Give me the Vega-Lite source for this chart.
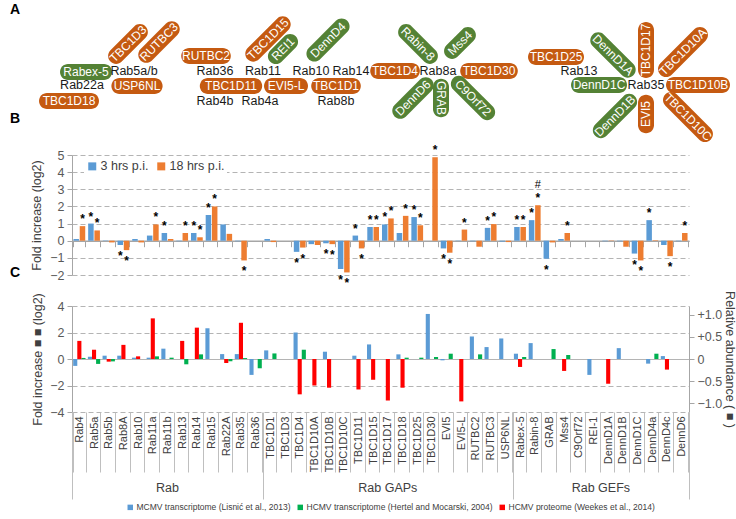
{
"$schema":"https://vega.github.io/schema/vega-lite/v6.json",
"padding":{"top":3,"left":0,"right":0,"bottom":0},
"autosize":{"type":"pad"},
"background":"white",
"bounds":"flush",
"spacing":31,
"resolve":{"scale":{"color":"independent","xOffset":"independent","shape":"independent","angle":"independent"}},
"config":{
  "view":{"stroke":null},
  "font":"Liberation Sans",
  "axis":{"labelFont":"Liberation Sans","titleFont":"Liberation Sans","labelColor":"#595959","titleColor":"#404040","titleFontWeight":"normal","domainColor":"#A6A6A6","tickColor":"#A6A6A6","gridColor":"#B4B4B4"},
  "legend":{"labelFont":"Liberation Sans"},
  "title":{"font":"Liberation Sans","fontSize":14,"fontWeight":"bold","color":"#000000","anchor":"start","frame":"group","dx":4}
},
"datasets":{
 "diagram":[
  {"t":"Rab","label":"Rab5a/b","x":128,"y":69},
  {"t":"Rab","label":"Rab22a","x":76,"y":83},
  {"t":"Rab","label":"Rab36","x":209,"y":69},
  {"t":"Rab","label":"Rab11","x":257,"y":69},
  {"t":"Rab","label":"Rab10","x":305,"y":69},
  {"t":"Rab","label":"Rab14","x":345,"y":69},
  {"t":"Rab","label":"Rab4b","x":209,"y":99},
  {"t":"Rab","label":"Rab4a","x":254,"y":99},
  {"t":"Rab","label":"Rab8b","x":330,"y":99},
  {"t":"Rab","label":"Rab8a","x":432,"y":69},
  {"t":"Rab","label":"Rab13","x":573,"y":69},
  {"t":"Rab","label":"Rab35","x":640,"y":83},
  {"t":"GEF","label":"Rabex-5","x":80,"y":70,"o":"h"},
  {"t":"GAP","label":"TBC1D3","x":122,"y":42,"o":"rise"},
  {"t":"GAP","label":"RUTBC3","x":153,"y":40,"o":"rise"},
  {"t":"GAP","label":"USP6NL","x":131,"y":84,"o":"h"},
  {"t":"GAP","label":"TBC1D18","x":63,"y":99,"o":"h"},
  {"t":"GAP","label":"RUTBC2","x":200,"y":54,"o":"h"},
  {"t":"GAP","label":"TBC1D15","x":262,"y":37,"o":"rise"},
  {"t":"GEF","label":"REI1","x":277,"y":47,"o":"rise"},
  {"t":"GEF","label":"DennD4","x":322,"y":38,"o":"rise"},
  {"t":"GAP","label":"TBC1D11","x":225,"y":84,"o":"h"},
  {"t":"GAP","label":"EVI5-L","x":280,"y":84,"o":"h"},
  {"t":"GAP","label":"TBC1D1","x":330,"y":84,"o":"h"},
  {"t":"GEF","label":"Rabin-8","x":412,"y":42,"o":"fall"},
  {"t":"GEF","label":"Mss4","x":454,"y":41,"o":"rise"},
  {"t":"GAP","label":"TBC1D4","x":389,"y":69,"o":"h"},
  {"t":"GAP","label":"TBC1D30","x":483,"y":69,"o":"h"},
  {"t":"GEF","label":"DennD6","x":407,"y":96,"o":"rise"},
  {"t":"GEF","label":"GRAB","x":435,"y":96,"o":"vdown"},
  {"t":"GEF","label":"C9Orf72","x":467,"y":96,"o":"fall"},
  {"t":"GAP","label":"TBC1D25","x":550,"y":55,"o":"h"},
  {"t":"GEF","label":"DennD1A","x":607,"y":53,"o":"fall"},
  {"t":"GAP","label":"TBC1D17","x":640,"y":48,"o":"vup"},
  {"t":"GAP","label":"TBC1D10A","x":677,"y":50,"o":"rise"},
  {"t":"GEF","label":"DennD1C","x":593,"y":83,"o":"h"},
  {"t":"GAP","label":"TBC1D10B","x":692,"y":83,"o":"h"},
  {"t":"GEF","label":"DennD1B","x":609,"y":114,"o":"rise"},
  {"t":"GAP","label":"EVI5","x":640,"y":112,"o":"vup"},
  {"t":"GAP","label":"TBC1D10C","x":682,"y":115,"o":"fall"}
 ],
 "b":[
  {"c":"Rab4","s":"3 hrs p.i.","v":0.1},{"c":"Rab4","s":"18 hrs p.i.","v":0.85,"sig":"*"},
  {"c":"Rab5a","s":"3 hrs p.i.","v":1.0,"sig":"*"},{"c":"Rab5a","s":"18 hrs p.i.","v":0.6,"sig":"*"},
  {"c":"Rab5b","s":"3 hrs p.i.","v":0.02},{"c":"Rab5b","s":"18 hrs p.i.","v":-0.1},
  {"c":"Rab8A","s":"3 hrs p.i.","v":-0.25,"sig":"*"},{"c":"Rab8A","s":"18 hrs p.i.","v":-0.55,"sig":"*"},
  {"c":"Rab10","s":"3 hrs p.i.","v":0.1},{"c":"Rab10","s":"18 hrs p.i.","v":-0.1},
  {"c":"Rab11a","s":"3 hrs p.i.","v":0.3},{"c":"Rab11a","s":"18 hrs p.i.","v":0.95,"sig":"*"},
  {"c":"Rab11b","s":"3 hrs p.i.","v":0.45,"sig":"*"},{"c":"Rab11b","s":"18 hrs p.i.","v":0.1},
  {"c":"Rab13","s":"3 hrs p.i.","v":-0.03},{"c":"Rab13","s":"18 hrs p.i.","v":0.45,"sig":"*"},
  {"c":"Rab14","s":"3 hrs p.i.","v":0.45,"sig":"*"},{"c":"Rab14","s":"18 hrs p.i.","v":0.2,"sig":"*"},
  {"c":"Rab15","s":"3 hrs p.i.","v":1.5,"sig":"*"},{"c":"Rab15","s":"18 hrs p.i.","v":2.0,"sig":"*"},
  {"c":"Rab22A","s":"3 hrs p.i.","v":0.95},{"c":"Rab22A","s":"18 hrs p.i.","v":0.4},
  {"c":"Rab35","s":"3 hrs p.i.","v":-0.03},{"c":"Rab35","s":"18 hrs p.i.","v":-1.15,"sig":"*"},
  {"c":"TBC1D1","s":"3 hrs p.i.","v":0.1},{"c":"TBC1D1","s":"18 hrs p.i.","v":-0.08},
  {"c":"TBC1D4","s":"3 hrs p.i.","v":-0.65,"sig":"*"},{"c":"TBC1D4","s":"18 hrs p.i.","v":-0.4,"sig":"*"},
  {"c":"TBC1D10A","s":"3 hrs p.i.","v":-0.2},{"c":"TBC1D10A","s":"18 hrs p.i.","v":-0.25},
  {"c":"TBC1D10B","s":"3 hrs p.i.","v":-0.15,"sig":"*"},{"c":"TBC1D10B","s":"18 hrs p.i.","v":-0.2,"sig":"*"},
  {"c":"TBC1D10C","s":"3 hrs p.i.","v":-1.65,"sig":"*"},{"c":"TBC1D10C","s":"18 hrs p.i.","v":-1.85,"sig":"*"},
  {"c":"TBC1D11","s":"3 hrs p.i.","v":0.3,"sig":"*"},{"c":"TBC1D11","s":"18 hrs p.i.","v":-0.45,"sig":"*"},
  {"c":"TBC1D15","s":"3 hrs p.i.","v":0.8,"sig":"*"},{"c":"TBC1D15","s":"18 hrs p.i.","v":0.8,"sig":"*"},
  {"c":"TBC1D17","s":"3 hrs p.i.","v":0.95,"sig":"*"},{"c":"TBC1D17","s":"18 hrs p.i.","v":1.3,"sig":"*"},
  {"c":"TBC1D18","s":"3 hrs p.i.","v":0.45},{"c":"TBC1D18","s":"18 hrs p.i.","v":1.45,"sig":"*"},
  {"c":"TBC1D25","s":"3 hrs p.i.","v":1.38,"sig":"*"},{"c":"TBC1D25","s":"18 hrs p.i.","v":0.9,"sig":"*"},
  {"c":"TBC1D30","s":"18 hrs p.i.","v":4.87,"sig":"*"},
  {"c":"EVI5","s":"3 hrs p.i.","v":-0.45,"sig":"*"},{"c":"EVI5","s":"18 hrs p.i.","v":-0.7,"sig":"*"},
  {"c":"EVI5-L","s":"3 hrs p.i.","v":-0.02},{"c":"EVI5-L","s":"18 hrs p.i.","v":0.65,"sig":"*"},
  {"c":"RUTBC2","s":"3 hrs p.i.","v":-0.03},{"c":"RUTBC2","s":"18 hrs p.i.","v":-0.35},
  {"c":"RUTBC3","s":"3 hrs p.i.","v":0.75,"sig":"*"},{"c":"RUTBC3","s":"18 hrs p.i.","v":0.97,"sig":"*"},
  {"c":"USP6NL","s":"3 hrs p.i.","v":-0.05},{"c":"USP6NL","s":"18 hrs p.i.","v":-0.08},
  {"c":"Rabex-5","s":"3 hrs p.i.","v":0.8,"sig":"*"},{"c":"Rabex-5","s":"18 hrs p.i.","v":0.8,"sig":"*"},
  {"c":"Rabin-8","s":"3 hrs p.i.","v":1.2,"sig":"*"},{"c":"Rabin-8","s":"18 hrs p.i.","v":2.07,"sig":"*","note":"#"},
  {"c":"GRAB","s":"3 hrs p.i.","v":-1.05,"sig":"*"},{"c":"GRAB","s":"18 hrs p.i.","v":-0.1},
  {"c":"Mss4","s":"3 hrs p.i.","v":0.1},{"c":"Mss4","s":"18 hrs p.i.","v":0.45,"sig":"*"},
  {"c":"DennD1A","s":"3 hrs p.i.","v":-0.03},{"c":"DennD1A","s":"18 hrs p.i.","v":0.02},
  {"c":"DennD1B","s":"3 hrs p.i.","v":-0.03},{"c":"DennD1B","s":"18 hrs p.i.","v":-0.35},
  {"c":"DennD1C","s":"3 hrs p.i.","v":-0.75,"sig":"*"},{"c":"DennD1C","s":"18 hrs p.i.","v":-1.15,"sig":"*"},
  {"c":"DennD4a","s":"3 hrs p.i.","v":1.2,"sig":"*"},{"c":"DennD4a","s":"18 hrs p.i.","v":0.03},
  {"c":"DennD4c","s":"3 hrs p.i.","v":-0.25},{"c":"DennD4c","s":"18 hrs p.i.","v":-0.9,"sig":"*"},
  {"c":"DennD6","s":"3 hrs p.i.","v":-0.03},{"c":"DennD6","s":"18 hrs p.i.","v":0.45,"sig":"*"}
 ],
 "c":[
  {"c":"Rab4","s":"MCMV transcriptome (Lisnić et al., 2013)","v":-0.52},{"c":"Rab4","s":"HCMV proteome (Weekes et al., 2014)","v":0.41},{"c":"Rab4","s":"HCMV transcriptome (Hertel and Mocarski, 2004)","v":0.08},
  {"c":"Rab5a","s":"MCMV transcriptome (Lisnić et al., 2013)","v":0.17},{"c":"Rab5a","s":"HCMV proteome (Weekes et al., 2014)","v":0.21},{"c":"Rab5a","s":"HCMV transcriptome (Hertel and Mocarski, 2004)","v":-0.37},
  {"c":"Rab5b","s":"MCMV transcriptome (Lisnić et al., 2013)","v":0.25},{"c":"Rab5b","s":"HCMV proteome (Weekes et al., 2014)","v":-0.06},{"c":"Rab5b","s":"HCMV transcriptome (Hertel and Mocarski, 2004)","v":-0.18},
  {"c":"Rab8A","s":"MCMV transcriptome (Lisnić et al., 2013)","v":0.25},{"c":"Rab8A","s":"HCMV proteome (Weekes et al., 2014)","v":0.32},
  {"c":"Rab10","s":"MCMV transcriptome (Lisnić et al., 2013)","v":0.1},{"c":"Rab10","s":"HCMV proteome (Weekes et al., 2014)","v":0.06},
  {"c":"Rab11a","s":"MCMV transcriptome (Lisnić et al., 2013)","v":0.1},{"c":"Rab11a","s":"HCMV proteome (Weekes et al., 2014)","v":0.92},{"c":"Rab11a","s":"HCMV transcriptome (Hertel and Mocarski, 2004)","v":0.2},
  {"c":"Rab11b","s":"MCMV transcriptome (Lisnić et al., 2013)","v":0.78},{"c":"Rab11b","s":"HCMV transcriptome (Hertel and Mocarski, 2004)","v":0.1},
  {"c":"Rab13","s":"HCMV proteome (Weekes et al., 2014)","v":0.41},{"c":"Rab13","s":"HCMV transcriptome (Hertel and Mocarski, 2004)","v":-0.4},
  {"c":"Rab14","s":"HCMV proteome (Weekes et al., 2014)","v":0.71},{"c":"Rab14","s":"HCMV transcriptome (Hertel and Mocarski, 2004)","v":0.35},
  {"c":"Rab15","s":"MCMV transcriptome (Lisnić et al., 2013)","v":2.32},
  {"c":"Rab22A","s":"MCMV transcriptome (Lisnić et al., 2013)","v":0.37},{"c":"Rab22A","s":"HCMV proteome (Weekes et al., 2014)","v":-0.09},{"c":"Rab22A","s":"HCMV transcriptome (Hertel and Mocarski, 2004)","v":-0.17},
  {"c":"Rab35","s":"MCMV transcriptome (Lisnić et al., 2013)","v":0.37},{"c":"Rab35","s":"HCMV proteome (Weekes et al., 2014)","v":0.82},{"c":"Rab35","s":"HCMV transcriptome (Hertel and Mocarski, 2004)","v":0.07},
  {"c":"Rab36","s":"MCMV transcriptome (Lisnić et al., 2013)","v":-1.2},{"c":"Rab36","s":"HCMV transcriptome (Hertel and Mocarski, 2004)","v":-0.7},
  {"c":"TBC1D1","s":"MCMV transcriptome (Lisnić et al., 2013)","v":0.65},{"c":"TBC1D1","s":"HCMV transcriptome (Hertel and Mocarski, 2004)","v":0.42},
  {"c":"TBC1D4","s":"MCMV transcriptome (Lisnić et al., 2013)","v":2.0},{"c":"TBC1D4","s":"HCMV proteome (Weekes et al., 2014)","v":-0.8},{"c":"TBC1D4","s":"HCMV transcriptome (Hertel and Mocarski, 2004)","v":0.7},
  {"c":"TBC1D10A","s":"HCMV proteome (Weekes et al., 2014)","v":-0.6},
  {"c":"TBC1D10B","s":"MCMV transcriptome (Lisnić et al., 2013)","v":0.55},{"c":"TBC1D10B","s":"HCMV proteome (Weekes et al., 2014)","v":-0.65},
  {"c":"TBC1D11","s":"MCMV transcriptome (Lisnić et al., 2013)","v":0.25},{"c":"TBC1D11","s":"HCMV proteome (Weekes et al., 2014)","v":-0.69},
  {"c":"TBC1D15","s":"MCMV transcriptome (Lisnić et al., 2013)","v":1.1},{"c":"TBC1D15","s":"HCMV proteome (Weekes et al., 2014)","v":-0.47},
  {"c":"TBC1D17","s":"HCMV proteome (Weekes et al., 2014)","v":-0.94},
  {"c":"TBC1D18","s":"MCMV transcriptome (Lisnić et al., 2013)","v":0.35},{"c":"TBC1D18","s":"HCMV proteome (Weekes et al., 2014)","v":-0.65},{"c":"TBC1D18","s":"HCMV transcriptome (Hertel and Mocarski, 2004)","v":0.1},
  {"c":"TBC1D25","s":"HCMV transcriptome (Hertel and Mocarski, 2004)","v":0.1},
  {"c":"TBC1D30","s":"MCMV transcriptome (Lisnić et al., 2013)","v":3.4},{"c":"TBC1D30","s":"HCMV transcriptome (Hertel and Mocarski, 2004)","v":0.15},
  {"c":"EVI5","s":"MCMV transcriptome (Lisnić et al., 2013)","v":-0.1},{"c":"EVI5","s":"HCMV transcriptome (Hertel and Mocarski, 2004)","v":0.4},
  {"c":"EVI5-L","s":"HCMV proteome (Weekes et al., 2014)","v":-0.96},
  {"c":"RUTBC2","s":"MCMV transcriptome (Lisnić et al., 2013)","v":1.7},{"c":"RUTBC2","s":"HCMV transcriptome (Hertel and Mocarski, 2004)","v":0.35},
  {"c":"RUTBC3","s":"MCMV transcriptome (Lisnić et al., 2013)","v":0.9},
  {"c":"USP6NL","s":"MCMV transcriptome (Lisnić et al., 2013)","v":1.55},
  {"c":"Rabex-5","s":"MCMV transcriptome (Lisnić et al., 2013)","v":0.4},{"c":"Rabex-5","s":"HCMV proteome (Weekes et al., 2014)","v":-0.18},{"c":"Rabex-5","s":"HCMV transcriptome (Hertel and Mocarski, 2004)","v":0.15},
  {"c":"Rabin-8","s":"MCMV transcriptome (Lisnić et al., 2013)","v":1.2},
  {"c":"GRAB","s":"HCMV transcriptome (Hertel and Mocarski, 2004)","v":0.75},
  {"c":"Mss4","s":"HCMV proteome (Weekes et al., 2014)","v":-0.27},{"c":"Mss4","s":"HCMV transcriptome (Hertel and Mocarski, 2004)","v":0.3},
  {"c":"REI-1","s":"MCMV transcriptome (Lisnić et al., 2013)","v":-1.2},
  {"c":"DennD1A","s":"HCMV proteome (Weekes et al., 2014)","v":-0.56},
  {"c":"DennD1B","s":"MCMV transcriptome (Lisnić et al., 2013)","v":0.82},
  {"c":"DennD4a","s":"MCMV transcriptome (Lisnić et al., 2013)","v":-0.35},{"c":"DennD4a","s":"HCMV transcriptome (Hertel and Mocarski, 2004)","v":0.4},
  {"c":"DennD4c","s":"MCMV transcriptome (Lisnić et al., 2013)","v":0.22},{"c":"DennD4c","s":"HCMV proteome (Weekes et al., 2014)","v":-0.24}
 ],
 "groups":[{"g":"Rab","b":0},{"g":"Rab","b":13},{"g":"Rab GAPs","b":13},{"g":"Rab GAPs","b":30},{"g":"Rab GEFs","b":30},{"g":"Rab GEFs","b":42}]
},
"vconcat":[
 {
  "width":736,"height":97,
  "title":{"text":"A","offset":-1},
  "data":{"name":"diagram"},
  "encoding":{
   "x":{"field":"x","type":"quantitative","scale":{"domain":[0,736],"nice":false,"zero":false},"axis":null},
   "y":{"field":"y","type":"quantitative","scale":{"domain":[25,122],"reverse":true,"nice":false,"zero":false},"axis":null}
  },
  "layer":[
   {"transform":[{"filter":"datum.t !== 'Rab'"}],
    "mark":{"type":"point","filled":true,"opacity":1,"size":256,"strokeWidth":0},
    "encoding":{
     "shape":{"field":"label","type":"nominal","legend":null,"scale":{
       "domain":["Rabex-5","TBC1D3","RUTBC3","USP6NL","TBC1D18","RUTBC2","TBC1D15","REI1","DennD4","TBC1D11","EVI5-L","TBC1D1","Rabin-8","Mss4","TBC1D4","TBC1D30","DennD6","GRAB","C9Orf72","TBC1D25","DennD1A","TBC1D17","TBC1D10A","DennD1C","TBC1D10B","DennD1B","EVI5","TBC1D10C"],
       "range":[
        "M-2.25,-1H2.25A1,1,0,0,1,2.25,1H-2.25A1,1,0,0,1,-2.25,-1Z",
        "M-2.1,-1H2.1A1,1,0,0,1,2.1,1H-2.1A1,1,0,0,1,-2.1,-1Z",
        "M-2.25,-1H2.25A1,1,0,0,1,2.25,1H-2.25A1,1,0,0,1,-2.25,-1Z",
        "M-2.2,-1H2.2A1,1,0,0,1,2.2,1H-2.2A1,1,0,0,1,-2.2,-1Z",
        "M-2.75,-1H2.75A1,1,0,0,1,2.75,1H-2.75A1,1,0,0,1,-2.75,-1Z",
        "M-2.1,-1H2.1A1,1,0,0,1,2.1,1H-2.1A1,1,0,0,1,-2.1,-1Z",
        "M-2.6,-1H2.6A1,1,0,0,1,2.6,1H-2.6A1,1,0,0,1,-2.6,-1Z",
        "M-1.25,-1H1.25A1,1,0,0,1,1.25,1H-1.25A1,1,0,0,1,-1.25,-1Z",
        "M-2.4,-1H2.4A1,1,0,0,1,2.4,1H-2.4A1,1,0,0,1,-2.4,-1Z",
        "M-2.9,-1H2.9A1,1,0,0,1,2.9,1H-2.9A1,1,0,0,1,-2.9,-1Z",
        "M-1.75,-1H1.75A1,1,0,0,1,1.75,1H-1.75A1,1,0,0,1,-1.75,-1Z",
        "M-2.1,-1H2.1A1,1,0,0,1,2.1,1H-2.1A1,1,0,0,1,-2.1,-1Z",
        "M-2.1,-1H2.1A1,1,0,0,1,2.1,1H-2.1A1,1,0,0,1,-2.1,-1Z",
        "M-1.4,-1H1.4A1,1,0,0,1,1.4,1H-1.4A1,1,0,0,1,-1.4,-1Z",
        "M-2.1,-1H2.1A1,1,0,0,1,2.1,1H-2.1A1,1,0,0,1,-2.1,-1Z",
        "M-2.6,-1H2.6A1,1,0,0,1,2.6,1H-2.6A1,1,0,0,1,-2.6,-1Z",
        "M-2.25,-1H2.25A1,1,0,0,1,2.25,1H-2.25A1,1,0,0,1,-2.25,-1Z",
        "M-1.4,-1H1.4A1,1,0,0,1,1.4,1H-1.4A1,1,0,0,1,-1.4,-1Z",
        "M-2.5,-1H2.5A1,1,0,0,1,2.5,1H-2.5A1,1,0,0,1,-2.5,-1Z",
        "M-2.5,-1H2.5A1,1,0,0,1,2.5,1H-2.5A1,1,0,0,1,-2.5,-1Z",
        "M-2.6,-1H2.6A1,1,0,0,1,2.6,1H-2.6A1,1,0,0,1,-2.6,-1Z",
        "M-2.5,-1H2.5A1,1,0,0,1,2.5,1H-2.5A1,1,0,0,1,-2.5,-1Z",
        "M-3,-1H3A1,1,0,0,1,3,1H-3A1,1,0,0,1,-3,-1Z",
        "M-2.5,-1H2.5A1,1,0,0,1,2.5,1H-2.5A1,1,0,0,1,-2.5,-1Z",
        "M-3,-1H3A1,1,0,0,1,3,1H-3A1,1,0,0,1,-3,-1Z",
        "M-2.5,-1H2.5A1,1,0,0,1,2.5,1H-2.5A1,1,0,0,1,-2.5,-1Z",
        "M-1.4,-1H1.4A1,1,0,0,1,1.4,1H-1.4A1,1,0,0,1,-1.4,-1Z",
        "M-3,-1H3A1,1,0,0,1,3,1H-3A1,1,0,0,1,-3,-1Z"
       ]}},
     "angle":{"field":"o","type":"nominal","legend":null,"scale":{"type":"ordinal","domain":["h","rise","fall","vup","vdown"],"range":[0,315,45,270,90]}},
     "color":{"field":"t","type":"nominal","legend":null,"scale":{"domain":["GAP","GEF"],"range":["#C55A11","#548235"]}}
    }},
   {"transform":[{"filter":"datum.t !== 'Rab'"}],
    "mark":{"type":"text","color":"white","fontSize":12,"align":"center","baseline":"middle"},
    "encoding":{
     "text":{"field":"label"},
     "angle":{"field":"o","type":"nominal","legend":null,"scale":{"type":"ordinal","domain":["h","rise","fall","vup","vdown"],"range":[0,315,45,270,90]}}
    }},
   {"transform":[{"filter":"datum.t === 'Rab'"}],
    "mark":{"type":"text","color":"#1a1a1a","fontSize":12.5,"align":"center","baseline":"middle"},
    "encoding":{"text":{"field":"label"}}}
  ]
 },
 {
  "width":736,"height":120,
  "title":{"text":"B","offset":18},
  "data":{"name":"b"},
  "encoding":{
   "x":{"field":"c","type":"nominal","sort":null,"title":null,
    "scale":{"domain":["Rab4","Rab5a","Rab5b","Rab8A","Rab10","Rab11a","Rab11b","Rab13","Rab14","Rab15","Rab22A","Rab35","Rab36","TBC1D1","TBC1D3","TBC1D4","TBC1D10A","TBC1D10B","TBC1D10C","TBC1D11","TBC1D15","TBC1D17","TBC1D18","TBC1D25","TBC1D30","EVI5","EVI5-L","RUTBC2","RUTBC3","USP6NL","Rabex-5","Rabin-8","GRAB","Mss4","C9Orf72","REI-1","DennD1A","DennD1B","DennD1C","DennD4a","DennD4c","DennD6"],"range":[66,683],"paddingInner":0.2,"paddingOuter":0.1},
    "axis":{"labels":false,"ticks":true,"tickBand":"extent","tickSize":6,"offset":-34.29,"domainWidth":1.5,"grid":false}},
   "xOffset":{"field":"s","type":"nominal","scale":{"domain":["3 hrs p.i.","18 hrs p.i."],"paddingInner":0.12}},
   "y":{"field":"v","type":"quantitative","scale":{"domain":[-2,5],"nice":false,"zero":false},
    "axis":{"offset":-66,"values":[-2,-1,0,1,2,3,4,5],"format":"d","title":"Fold increase (log2)","titleFontSize":12.5,"titlePadding":6,"labelFontSize":12.5,"labelPadding":3,"tickSize":5,"grid":true,
     "gridDash":{"condition":{"test":"datum.value === 0","value":[]},"value":[5,3]}}}
  },
  "layer":[
   {"mark":{"type":"bar"},
    "encoding":{"color":{"field":"s","type":"nominal","scale":{"domain":["3 hrs p.i.","18 hrs p.i."],"range":["#5B9BD5","#ED7D31"]},
     "legend":{"orient":"none","legendX":78,"legendY":3,"direction":"horizontal","title":null,"symbolType":"square","symbolSize":64,"symbolStrokeWidth":0,"labelFontSize":12.5,"labelColor":"#404040","columnPadding":6,"labelOffset":2,"fillColor":"white","padding":2}}}},
   {"transform":[{"filter":"datum.sig && datum.v >= 0"}],
    "mark":{"type":"text","fontSize":12,"fontWeight":"bold","dy":-7,"baseline":"middle","color":"#000000"},
    "encoding":{"text":{"field":"sig"}}},
   {"transform":[{"filter":"datum.sig && datum.v < 0"}],
    "mark":{"type":"text","fontSize":12,"fontWeight":"bold","dy":11,"baseline":"middle","color":"#000000"},
    "encoding":{"text":{"field":"sig"}}},
   {"transform":[{"filter":"datum.note"}],
    "mark":{"type":"text","fontSize":11,"dy":-20,"baseline":"middle","color":"#000000"},
    "encoding":{"text":{"field":"note"}}}
  ]
 },
 {
  "width":736,"height":106,
  "title":{"text":"C","offset":9},
  "data":{"name":"c"},
  "encoding":{
   "x":{"field":"c","type":"nominal","sort":null,"title":null,
    "scale":{"domain":["Rab4","Rab5a","Rab5b","Rab8A","Rab10","Rab11a","Rab11b","Rab13","Rab14","Rab15","Rab22A","Rab35","Rab36","TBC1D1","TBC1D3","TBC1D4","TBC1D10A","TBC1D10B","TBC1D10C","TBC1D11","TBC1D15","TBC1D17","TBC1D18","TBC1D25","TBC1D30","EVI5","EVI5-L","RUTBC2","RUTBC3","USP6NL","Rabex-5","Rabin-8","GRAB","Mss4","C9Orf72","REI-1","DennD1A","DennD1B","DennD1C","DennD4a","DennD4c","DennD6"],"range":[66,683],"paddingInner":0.16,"paddingOuter":0.08},
    "axis":{"orient":"bottom","domain":false,"labelAngle":270,"labelAlign":"right","labelBaseline":"middle","labelFontSize":11,"labelColor":"#404040","labelPadding":-56,"tickBand":"extent","tickSize":60,"tickColor":"#BFBFBF","grid":false,"labelOverlap":false}},
   "xOffset":{"field":"s","type":"nominal","scale":{"domain":["MCMV transcriptome (Lisnić et al., 2013)","HCMV proteome (Weekes et al., 2014)","HCMV transcriptome (Hertel and Mocarski, 2004)"],"paddingInner":0}},
   "color":{"field":"s","type":"nominal","scale":{"domain":["MCMV transcriptome (Lisnić et al., 2013)","HCMV transcriptome (Hertel and Mocarski, 2004)","HCMV proteome (Weekes et al., 2014)"],"range":["#5B9BD5","#00B050","#FF0000"]},
    "legend":{"orient":"none","legendX":120,"legendY":197,"direction":"horizontal","title":null,"symbolType":"square","symbolSize":30,"symbolStrokeWidth":0,"labelFontSize":8.5,"labelFont":"Liberation Sans","labelLimit":400,"labelColor":"#404040","columnPadding":5,"labelOffset":2}}
  },
  "layer":[
   {"transform":[{"filter":"datum.s !== 'HCMV proteome (Weekes et al., 2014)'"}],
    "mark":{"type":"bar"},
    "encoding":{
     "y":{"field":"v","type":"quantitative","scale":{"domain":[-4,4],"nice":false,"zero":false},
      "axis":{"orient":"left","offset":-66,"values":[-4,-2,0,2,4],"format":"d","title":"Fold increase ■ ■ (log2)","titleFontSize":12.5,"titlePadding":5,"labelFontSize":12.5,"labelPadding":3,"tickSize":5,"grid":true,
       "gridDash":{"condition":{"test":"datum.value === 0","value":[]},"value":[5,3]}}}
    }},
   {"transform":[{"filter":"datum.s === 'HCMV proteome (Weekes et al., 2014)'"}],
    "mark":{"type":"bar"},
    "encoding":{
     "y":{"field":"v","type":"quantitative","scale":{"domain":[-1.2,1.2],"nice":false,"zero":false},
      "axis":{"orient":"right","offset":-53,"values":[-1,-0.5,0,0.5,1],"labelExpr":"datum.value > 0 ? '+' + format(datum.value, '.1f') : (datum.value === 0 ? '0' : format(datum.value, '.1f'))","title":"Relative  abundance ( ■ )","titleFontSize":12.5,"titlePadding":1,"labelFontSize":12.5,"labelPadding":3,"tickSize":5,"grid":false}}
    }}
  ],
  "resolve":{"scale":{"y":"independent"},"axis":{"y":"independent"}}
 },
 {
  "width":736,"height":90,
  "data":{"name":"groups"},
  "layer":[
   {"mark":{"type":"rule","opacity":0},
    "encoding":{"x":{"field":"b","type":"quantitative","scale":{"domain":[0,42],"range":[66,683],"nice":false,"zero":false},
     "axis":{"orient":"top","offset":-56,"values":[0,13,30,42],"labels":false,"domain":false,"grid":false,"tickSize":87,"tickColor":"#BFBFBF","title":null}}}},
   {"mark":{"type":"text","fontSize":12.5,"font":"Liberation Sans","color":"#404040"},
    "encoding":{"x":{"aggregate":"mean","field":"b","type":"quantitative"},"text":{"field":"g","type":"nominal"}}}
  ]
 }
]
}
